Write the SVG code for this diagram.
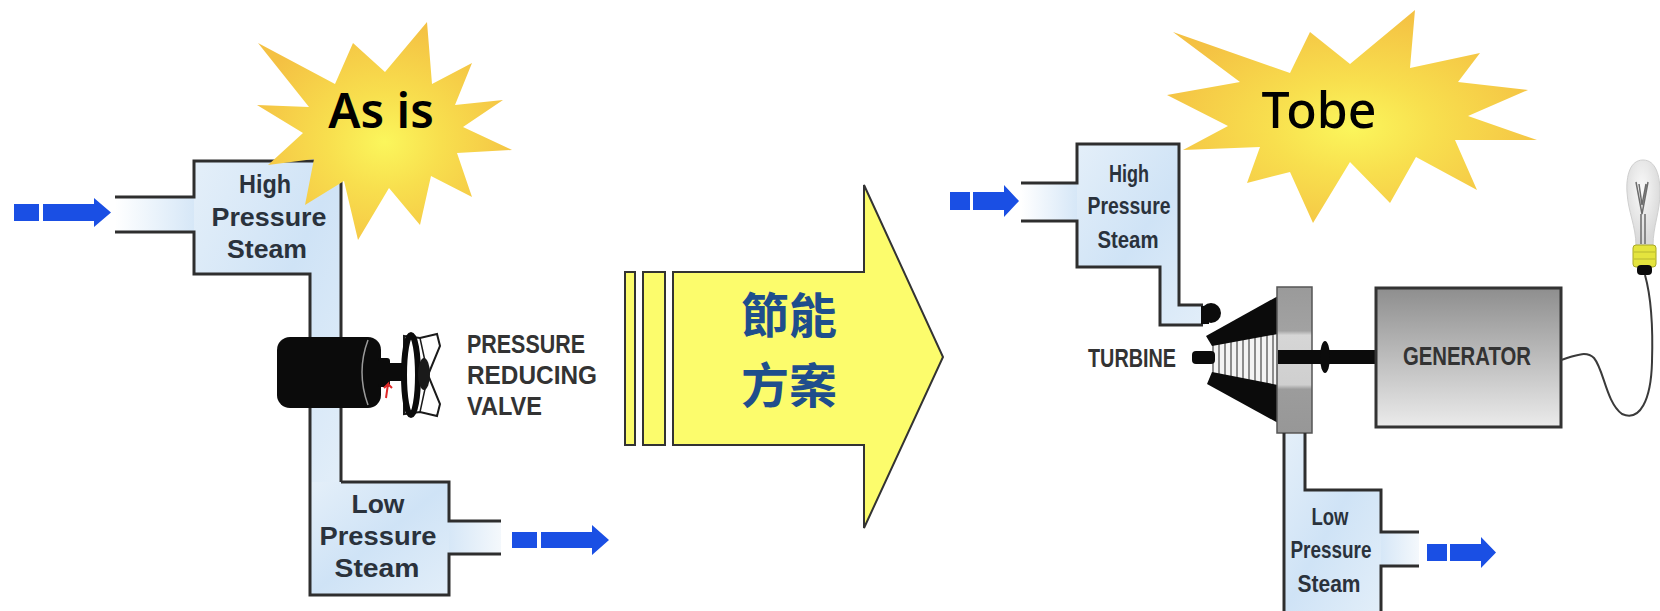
<svg xmlns="http://www.w3.org/2000/svg" width="1660" height="611" viewBox="0 0 1660 611">
  <style>
    .steam { fill: url(#steamFill); }
    .wall { fill: none; stroke: #2e2e2e; stroke-width: 3; stroke-linejoin: miter; }
    .lbl { font-family: "Liberation Sans", Arial, sans-serif; font-weight: bold; fill: #2a323c; text-anchor: middle; }
    .cap { font-family: "Liberation Sans", Arial, sans-serif; font-weight: bold; fill: #333333; }
    .flow { fill: #1a4fe4; }
    .burst { fill: url(#burstFill); }
    .title { font-family: "Noto Sans", "Open Sans", sans-serif; fill: #000000; text-anchor: middle; }
    .plan { font-family: "Noto Sans CJK TC", "Noto Sans CJK SC", sans-serif; font-size: 48px; font-weight: bold; fill: #1f4e8c; text-anchor: middle; }
    .black { fill: #0b0b0b; }
  </style>
  <defs>
    <linearGradient id="steamFill" x1="0" y1="0" x2="1" y2="1">
      <stop offset="0" stop-color="#e4eff9"/>
      <stop offset="0.5" stop-color="#cfe3f6"/>
      <stop offset="1" stop-color="#e2eef9"/>
    </linearGradient>
    <linearGradient id="inletFade" x1="0" y1="0" x2="1" y2="0">
      <stop offset="0" stop-color="#ffffff"/>
      <stop offset="1" stop-color="#d6e7f7"/>
    </linearGradient>
    <linearGradient id="outletFade" x1="0" y1="0" x2="1" y2="0">
      <stop offset="0" stop-color="#d6e7f7"/>
      <stop offset="1" stop-color="#f4f8fc"/>
    </linearGradient>
    <radialGradient id="burstFill" cx="50%" cy="55%" r="55%">
      <stop offset="0" stop-color="#fbf65c"/>
      <stop offset="0.4" stop-color="#f8df4e"/>
      <stop offset="1" stop-color="#f4c143"/>
    </radialGradient>
    <linearGradient id="wheelFill" x1="0" y1="0" x2="0" y2="1">
      <stop offset="0" stop-color="#9a9a9a"/>
      <stop offset="0.3" stop-color="#a2a2a2"/>
      <stop offset="0.33" stop-color="#d6d6d6"/>
      <stop offset="0.67" stop-color="#cfcfcf"/>
      <stop offset="0.7" stop-color="#9c9c9c"/>
      <stop offset="1" stop-color="#979797"/>
    </linearGradient>
    <linearGradient id="genFill" x1="0" y1="0" x2="0" y2="1">
      <stop offset="0" stop-color="#8e8e8e"/>
      <stop offset="1" stop-color="#ebebeb"/>
    </linearGradient>
    <radialGradient id="glassFill" cx="45%" cy="35%" r="60%">
      <stop offset="0" stop-color="#fafafa"/>
      <stop offset="1" stop-color="#d9d9d9"/>
    </radialGradient>
    <pattern id="blades" width="6" height="10" patternUnits="userSpaceOnUse">
      <rect width="6" height="10" fill="#f3f3f3"/>
      <rect width="2" height="10" fill="#8c8c8c"/>
    </pattern>
  </defs>

  <rect width="1660" height="611" fill="#ffffff"/>

  <!-- left: high pressure steam header -->
  <g id="as-is-high-steam">
    <rect x="115" y="197" width="79" height="35" fill="url(#inletFade)"/>
    <path class="steam" d="M194,161 H341 V482 H310 V274 H194 Z"/>
    <path class="wall" d="M115,197 H194 V161 H341 V482"/>
    <path class="wall" d="M115,232 H194 V274 H310 V482"/>
    <text class="lbl" x="265" y="193" font-size="25" textLength="52" lengthAdjust="spacingAndGlyphs">High</text>
    <text class="lbl" x="269" y="226" font-size="25" textLength="115" lengthAdjust="spacingAndGlyphs">Pressure</text>
    <text class="lbl" x="267" y="258" font-size="25" textLength="80" lengthAdjust="spacingAndGlyphs">Steam</text>
  </g>

  <!-- left: low pressure steam outlet -->
  <g id="as-is-low-steam">
    <rect x="449" y="521" width="52" height="33" fill="url(#outletFade)"/>
    <path class="steam" d="M310,482 H449 V595 H310 Z"/>
    <path class="wall" d="M341,482 H449 V521 H501"/>
    <path class="wall" d="M310,482 V595 H449 V554 H501"/>
    <text class="lbl" x="378" y="513" font-size="25" textLength="53" lengthAdjust="spacingAndGlyphs">Low</text>
    <text class="lbl" x="378" y="545" font-size="25" textLength="117" lengthAdjust="spacingAndGlyphs">Pressure</text>
    <text class="lbl" x="377" y="577" font-size="25" textLength="85" lengthAdjust="spacingAndGlyphs">Steam</text>
  </g>

  <!-- pressure reducing valve -->
  <g id="reducing-valve">
    <rect class="black" x="277" y="337" width="104" height="71" rx="13"/>
    <path d="M368,340 Q356,372 368,405" fill="none" stroke="#9a9a9a" stroke-width="1.5"/>
    <rect class="black" x="378" y="358" width="12" height="29" rx="3"/>
    <rect class="black" x="388" y="363" width="15" height="18"/>
    <path d="M386,398 L388,384 L384,388 M388,384 L392,388" fill="none" stroke="#e02828" stroke-width="2"/>
    <!-- handwheel spokes, drawn as outlined lugs -->
    <path d="M404,336 L420,338 L437,334 L440,346 L428,375 L440,404 L437,416 L420,412 L404,414 Z" fill="#ffffff" stroke="#1a1a1a" stroke-width="2"/>
    <path d="M420,338 L428,375 L420,412" fill="none" stroke="#1a1a1a" stroke-width="1.5"/>
    <ellipse cx="411" cy="375" rx="7" ry="40" fill="none" stroke="#0b0b0b" stroke-width="6"/>
    <ellipse cx="424" cy="374" rx="6" ry="16" fill="#1a1a1a"/>
    <text class="cap" x="467" y="353" font-size="25" textLength="118" lengthAdjust="spacingAndGlyphs">PRESSURE</text>
    <text class="cap" x="467" y="384" font-size="25" textLength="130" lengthAdjust="spacingAndGlyphs">REDUCING</text>
    <text class="cap" x="467" y="415" font-size="25" textLength="75" lengthAdjust="spacingAndGlyphs">VALVE</text>
  </g>

  <!-- starburst: As is -->
  <g id="as-is-burst">
    <polygon class="burst" points="257,105 309,107 258,43 335,84 353,43 385,72 427,22 432,84 472,63 455,105 503,100 463,127 512,150 457,153 472,197 431,176 420,225 389,188 358,240 344,181 305,205 314,159 268,165 303,133"/>
    <text class="title" x="381" y="128" font-size="48" font-weight="600">As is</text>
  </g>

  <!-- transition arrow -->
  <g id="saving-plan">
    <rect x="625" y="272" width="10" height="173" fill="#fcfc6c" stroke="#333333" stroke-width="2"/>
    <rect x="643" y="272" width="22" height="173" fill="#fcfc6c" stroke="#333333" stroke-width="2"/>
    <path d="M673,272 H864 V185 L943,357 L864,528 V445 H673 Z" fill="#fcfc6c" stroke="#333333" stroke-width="2"/>
    <text class="plan" x="789" y="333">節能</text>
    <text class="plan" x="789" y="403">方案</text>
  </g>

  <!-- right: high pressure steam header -->
  <g id="to-be-high-steam">
    <rect x="1021" y="183" width="56" height="38" fill="url(#inletFade)"/>
    <path class="steam" d="M1077,144 H1179 V305 H1205 V325 H1160 V267 H1077 Z"/>
    <path class="wall" d="M1021,183 H1077 V144 H1179 V305 H1203"/>
    <path class="wall" d="M1021,221 H1077 V267 H1160 V325 H1203"/>
    <text class="lbl" x="1129" y="182" font-size="24" textLength="40" lengthAdjust="spacingAndGlyphs">High</text>
    <text class="lbl" x="1129" y="214" font-size="24" textLength="83" lengthAdjust="spacingAndGlyphs">Pressure</text>
    <text class="lbl" x="1128" y="248" font-size="24" textLength="61" lengthAdjust="spacingAndGlyphs">Steam</text>
  </g>

  <!-- starburst: Tobe -->
  <g id="to-be-burst">
    <polygon class="burst" points="1167,95 1240,82 1173,32 1290,73 1310,32 1350,64 1415,10 1410,68 1480,53 1458,82 1528,90 1468,116 1537,140 1455,140 1477,190 1416,157 1390,203 1350,162 1313,223 1290,172 1247,183 1260,147 1183,150 1228,126"/>
    <text class="title" x="1319" y="128" font-size="50" font-weight="500">Tobe</text>
  </g>

  <!-- steam turbine -->
  <g id="turbine">
    <circle class="black" cx="1211" cy="313" r="10"/>
    <rect class="black" x="1201" y="306" width="8" height="18"/>
    <polygon points="1212,345 1278,333 1278,386 1212,373" fill="url(#blades)"/>
    <polygon class="black" points="1206,336 1278,296 1278,334 1212,346"/>
    <polygon class="black" points="1212,372 1278,385 1278,423 1207,384"/>
    <rect class="black" x="1192" y="351" width="23" height="13" rx="4"/>
    <rect x="1277" y="287" width="35" height="146" fill="url(#wheelFill)" stroke="#555555" stroke-width="1.5"/>
    <rect class="black" x="1278" y="350" width="99" height="14"/>
    <ellipse class="black" cx="1325" cy="357" rx="5" ry="16"/>
    <text class="cap" x="1088" y="367" font-size="26" textLength="88" lengthAdjust="spacingAndGlyphs">TURBINE</text>
  </g>

  <!-- generator -->
  <g id="generator">
    <rect x="1376" y="288" width="185" height="139" fill="url(#genFill)" stroke="#333333" stroke-width="3"/>
    <text class="cap" x="1403" y="365" font-size="26" textLength="128" lengthAdjust="spacingAndGlyphs">GENERATOR</text>
  </g>

  <!-- light bulb -->
  <g id="bulb">
    <path d="M1643,160 C1630,160 1626,176 1627,192 C1628,212 1636,226 1636,246 L1653,246 C1653,226 1660,212 1660,192 C1660,176 1656,160 1643,160 Z" fill="url(#glassFill)" stroke="#cfcfcf" stroke-width="1"/>
    <path d="M1636,182 L1642,214 L1648,182 M1639,184 L1642,205 L1646,184 M1641,214 V244 M1645,214 V244" fill="none" stroke="#6c6c6c" stroke-width="1.5"/>
    <rect x="1633" y="245" width="23" height="22" rx="3" fill="#e4e43e" stroke="#a8a828" stroke-width="1"/>
    <path d="M1634,252 H1655 M1634,259 H1655" stroke="#b8b830" stroke-width="1"/>
    <rect class="black" x="1637" y="265" width="15" height="10" rx="4"/>
  </g>

  <!-- right: low pressure steam outlet -->
  <g id="to-be-low-steam">
    <rect x="1381" y="532" width="38" height="34" fill="url(#outletFade)"/>
    <path class="steam" d="M1284,434 H1305 V490 H1381 V611 H1284 Z"/>
    <path class="wall" d="M1305,433 V490 H1381 V532 H1419"/>
    <path class="wall" d="M1284,433 V611"/>
    <path class="wall" d="M1419,566 H1381 V611"/>
    <text class="lbl" x="1330" y="525" font-size="24" textLength="37" lengthAdjust="spacingAndGlyphs">Low</text>
    <text class="lbl" x="1331" y="558" font-size="24" textLength="81" lengthAdjust="spacingAndGlyphs">Pressure</text>
    <text class="lbl" x="1329" y="592" font-size="24" textLength="63" lengthAdjust="spacingAndGlyphs">Steam</text>
  </g>

  <!-- flow arrows and wiring -->
  <g id="connectors">
    <rect class="flow" x="14" y="204" width="25" height="17"/>
    <path class="flow" d="M43,204 H94 V198 L111,212.5 L94,227 V221 H43 Z"/>
    <rect class="flow" x="512" y="532" width="25" height="16"/>
    <path class="flow" d="M541,532 H592 V525 L609,540 L592,555 V548 H541 Z"/>
    <rect class="flow" x="950" y="192" width="20" height="18"/>
    <path class="flow" d="M973,192 H1004 V185 L1019,201 L1004,217 V210 H973 Z"/>
    <rect class="flow" x="1427" y="544" width="20" height="17"/>
    <path class="flow" d="M1450,544 H1481 V537 L1496,552.5 L1481,568 V561 H1450 Z"/>
    <path d="M1561,360 C1574,356 1586,350 1594,358 C1604,370 1606,402 1622,414 C1640,422 1651,400 1652,362 C1653,330 1652,300 1645,275" fill="none" stroke="#3a3a3a" stroke-width="2"/>
  </g>
</svg>
